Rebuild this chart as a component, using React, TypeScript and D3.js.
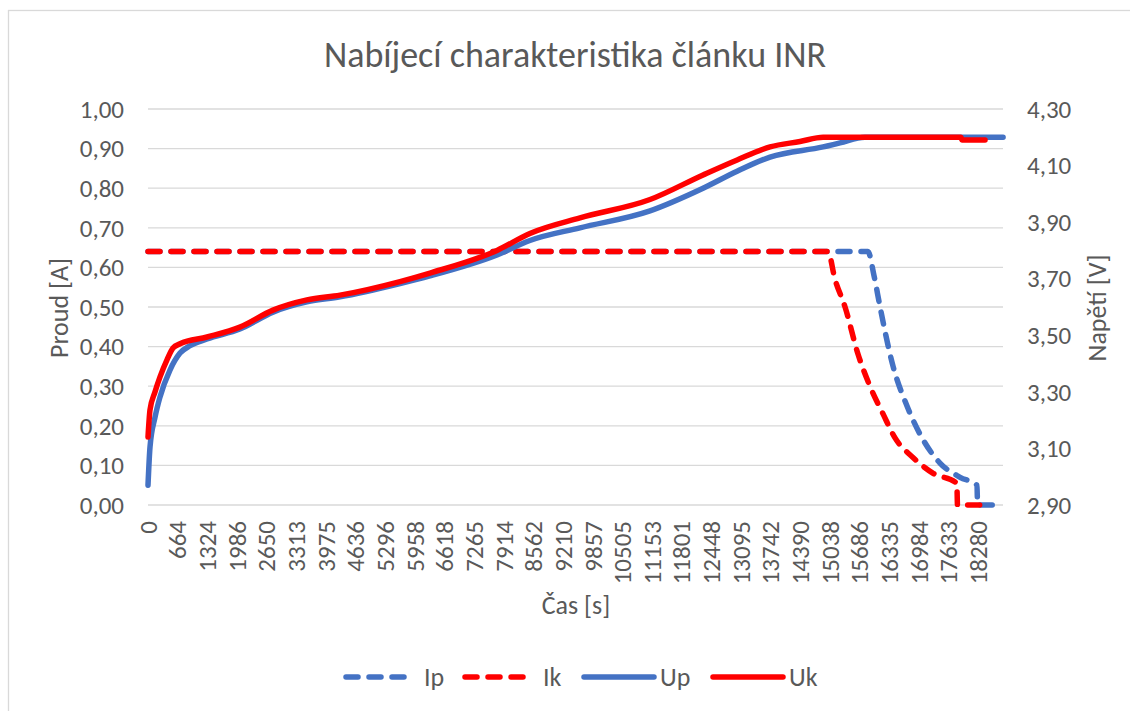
import React from 'react';
import * as d3 from 'd3';

// category labels shown on the time axis (every n-th sample)
const timeLabels = [
  0, 664, 1324, 1986, 2650, 3313, 3975, 4636, 5296, 5958, 6618, 7265, 7914, 8562, 9210,
  9857, 10505, 11153, 11801, 12448, 13095, 13742, 14390, 15038, 15686, 16335, 16984,
  17633, 18280,
];

const currentTicks = [0, 0.1, 0.2, 0.3, 0.4, 0.5, 0.6, 0.7, 0.8, 0.9, 1.0];
const voltageTicks = [2.9, 3.1, 3.3, 3.5, 3.7, 3.9, 4.1, 4.3];

// [time s, current A]
const ipData: [number, number][] = [
  [0, 0.64], [15868, 0.64], [16000, 0.58], [16134, 0.5], [16419, 0.35], [16724, 0.25],
  [17075, 0.165], [17445, 0.106], [17885, 0.07], [18254, 0.05], [18266, 0], [18823, 0],
];
const ikData: [number, number][] = [
  [0, 0.64], [14993, 0.64], [15148, 0.57], [15368, 0.5], [15654, 0.38], [15913, 0.3],
  [16199, 0.23], [16458, 0.17], [16854, 0.12], [17296, 0.08], [17814, 0.055], [17828, 0],
  [18429, 0],
];

// [time s, voltage V]
const upData: [number, number][] = [
  [0, 2.97], [45, 3.105], [157, 3.21], [269, 3.282], [492, 3.377], [717, 3.437],
  [939, 3.463], [1318, 3.487], [2052, 3.522], [2793, 3.582], [3551, 3.618], [4289, 3.636],
  [5627, 3.683], [6295, 3.71], [7765, 3.784], [8484, 3.835], [9579, 3.88], [11108, 3.94],
  [12267, 4.02], [13011, 4.08], [13729, 4.13], [14889, 4.166], [15258, 4.18], [15803, 4.2],
  [18823, 4.2],
];
const ukData: [number, number][] = [
  [0, 3.14], [45, 3.236], [157, 3.3], [269, 3.353], [425, 3.413], [560, 3.455], [717, 3.47],
  [1318, 3.494], [2052, 3.529], [2793, 3.589], [3551, 3.625], [4289, 3.642], [5627, 3.69],
  [6295, 3.72], [7765, 3.8], [8484, 3.86], [9579, 3.915], [11108, 3.98], [12267, 4.067],
  [13011, 4.12], [13729, 4.166], [14384, 4.185], [14889, 4.2], [17900, 4.2], [17930, 4.19],
  [18429, 4.19],
];

const BLUE = '#4472C4';
const RED = '#FF0000';
const TEXT = '#595959';
const GRID = '#D9D9D9';
const FONT = 'Calibri, Carlito, Lato, sans-serif';

const width = 1130;
const height = 711;
const plot = { left: 148, right: 1003, top: 109, bottom: 505 };
const step = 29.65;
const fs = 25;

const locale = d3.formatLocale({ decimal: ',', thousands: ' ', grouping: [3], currency: ['', ''] });
const fmt = locale.format('.2f');

export default function App() {
  // piecewise scale: each category label sits on its own tick slot
  const x = d3
    .scaleLinear()
    .domain(timeLabels)
    .range(timeLabels.map((_, i) => plot.left + i * step));
  const yI = d3.scaleLinear().domain([0, 1]).range([plot.bottom, plot.top]);
  const yU = d3.scaleLinear().domain([2.9, 4.3]).range([plot.bottom, plot.top]);

  const lineI = d3
    .line<[number, number]>()
    .x((d) => x(d[0]))
    .y((d) => yI(d[1]))
    .curve(d3.curveMonotoneX);
  const lineU = d3
    .line<[number, number]>()
    .x((d) => x(d[0]))
    .y((d) => yU(d[1]))
    .curve(d3.curveMonotoneX);

  const sw = 5.5;
  const dash = '12 11';

  const legend = [
    { name: 'Ip', color: BLUE, dashed: true, x: 346 },
    { name: 'Ik', color: RED, dashed: true, x: 465 },
    { name: 'Up', color: BLUE, dashed: false, x: 584 },
    { name: 'Uk', color: RED, dashed: false, x: 713 },
  ];

  return (
    <svg
      width={width}
      height={height}
      style={{ position: 'absolute', left: 0, top: 0, background: '#fff' }}
      fontFamily={FONT}
    >
      <rect x={8.5} y={10.5} width={1300} height={900} fill="#fff" stroke={GRID} strokeWidth={1.3} />

      <text x={575} y={67} textAnchor="middle" fontSize={36} fill={TEXT}>
        Nabíjecí charakteristika článku INR
      </text>

      {/* gridlines */}
      {currentTicks.map((t) => (
        <line
          key={t}
          x1={plot.left}
          x2={plot.right}
          y1={yI(t)}
          y2={yI(t)}
          stroke={GRID}
          strokeWidth={1.3}
        />
      ))}

      {/* left axis */}
      {currentTicks.map((t) => (
        <text key={t} x={124} y={yI(t)} dy="0.35em" textAnchor="end" fontSize={fs} fill={TEXT}>
          {fmt(t)}
        </text>
      ))}
      <text
        transform={`translate(68, 308) rotate(-90)`}
        textAnchor="middle"
        fontSize={fs + 1}
        fill={TEXT}
      >
        Proud [A]
      </text>

      {/* right axis */}
      {voltageTicks.map((t) => (
        <text key={t} x={1027} y={yU(t)} dy="0.35em" textAnchor="start" fontSize={fs} fill={TEXT}>
          {fmt(t)}
        </text>
      ))}
      <text
        transform={`translate(1106, 308) rotate(-90)`}
        textAnchor="middle"
        fontSize={fs + 1}
        fill={TEXT}
      >
        Napětí [V]
      </text>

      {/* time axis */}
      {timeLabels.map((t) => (
        <text
          key={t}
          transform={`translate(${x(t)}, 521) rotate(-90)`}
          textAnchor="end"
          dy="0.35em"
          fontSize={fs}
          fill={TEXT}
        >
          {t}
        </text>
      ))}
      <text x={576} y={614} textAnchor="middle" fontSize={fs + 1} fill={TEXT}>
        Čas [s]
      </text>

      {/* series */}
      <path d={lineI(ipData) ?? ''} fill="none" stroke={BLUE} strokeWidth={sw} strokeDasharray={dash} strokeLinecap="round" strokeLinejoin="round" />
      <path d={lineI(ikData) ?? ''} fill="none" stroke={RED} strokeWidth={sw} strokeDasharray={dash} strokeLinecap="round" strokeLinejoin="round" />
      <path d={lineU(upData) ?? ''} fill="none" stroke={BLUE} strokeWidth={sw} strokeLinecap="round" strokeLinejoin="round" />
      <path d={lineU(ukData) ?? ''} fill="none" stroke={RED} strokeWidth={sw} strokeLinecap="round" strokeLinejoin="round" />

      {/* legend */}
      {legend.map((l) => (
        <g key={l.name}>
          <line
            x1={l.x}
            x2={l.x + (l.dashed ? 64 : 70)}
            y1={677}
            y2={677}
            stroke={l.color}
            strokeWidth={sw}
            strokeLinecap="round"
            strokeDasharray={l.dashed ? dash : undefined}
          />
          <text x={l.x + (l.dashed ? 78 : 76)} y={677} dy="0.35em" fontSize={fs + 1} fill={TEXT}>
            {l.name}
          </text>
        </g>
      ))}
    </svg>
  );
}
